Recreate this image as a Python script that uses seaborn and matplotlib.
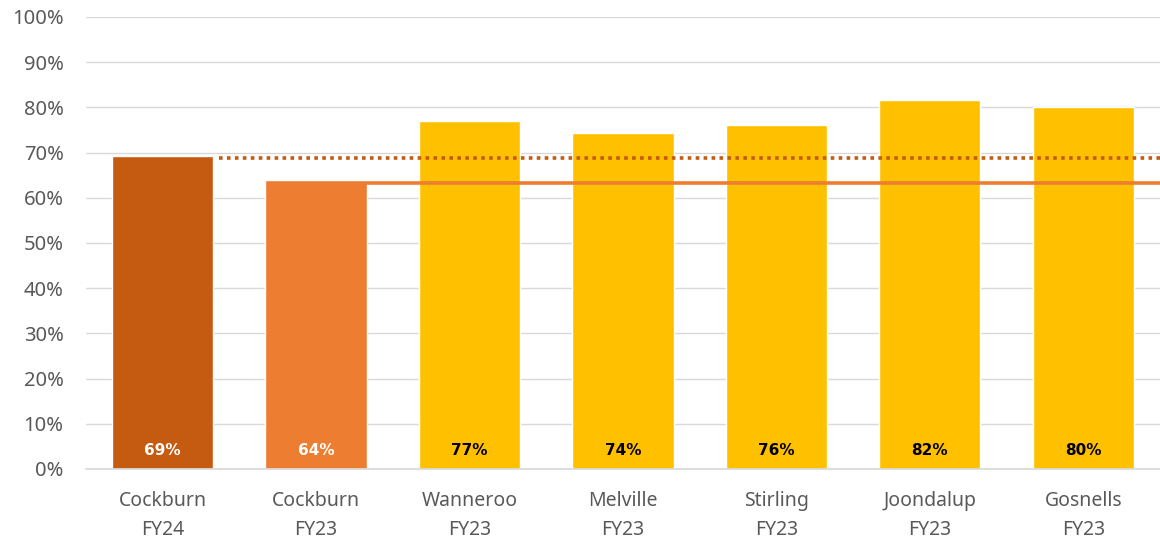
import matplotlib
matplotlib.use("Agg")

import matplotlib.pyplot as plt
import matplotlib.ticker as mticker
import seaborn as sns
import pandas as pd

# ── Data ──────────────────────────────────────────────────────────────────────
councils = ["Cockburn\nFY24", "Cockburn\nFY23", "Wanneroo\nFY23", "Melville\nFY23",
            "Stirling\nFY23", "Joondalup\nFY23", "Gosnells\nFY23"]
rates = [0.692, 0.639, 0.770, 0.743, 0.761, 0.816, 0.801]
rate_labels = ["69%", "64%", "77%", "74%", "76%", "82%", "80%"]
fy24_ref = 0.688   # dotted line
fy23_ref = 0.633   # solid line

# ── Style ─────────────────────────────────────────────────────────────────────
sns.set_theme(style="white")
plt.rcParams["font.family"] = ["Noto Sans", "DejaVu Sans"]

bar_colors = ["#C55A11", "#ED7D31"] + ["#FFC000"] * 5
text_colors = ["white", "white"] + ["black"] * 5

df = pd.DataFrame({"council": councils, "rate": rates})

fig = plt.figure(figsize=(11.6, 5.45), dpi=100)
ax = fig.add_axes([0.074, 0.1395, 0.926, 0.8295])

sns.barplot(data=df, x="council", y="rate", hue="council", palette=bar_colors,
            width=0.66, legend=False, saturation=1, ax=ax, zorder=2)

ax.plot([0.37, 6.5], [fy24_ref, fy24_ref], color="#C55A11", lw=2.6,
        ls=(0, (1, 1.2)), zorder=3)
ax.plot([1.33, 6.5], [fy23_ref, fy23_ref], color="#ED7D31", lw=2.6, zorder=3)

for i, (lab, col) in enumerate(zip(rate_labels, text_colors)):
    ax.text(i, 0.04, lab, ha="center", va="center", color=col,
            fontsize=11, fontweight="bold", family="DejaVu Sans")

ax.set_xlim(-0.5, 6.5)
ax.set_ylim(0, 1.0)
ax.yaxis.set_major_locator(mticker.MultipleLocator(0.1))
ax.yaxis.set_major_formatter(mticker.PercentFormatter(xmax=1, decimals=0))
ax.grid(axis="y", color="#D9D9D9", lw=1, zorder=0)
ax.set_axisbelow(True)
for s in ["top", "right", "left"]:
    ax.spines[s].set_visible(False)
ax.spines["bottom"].set_color("#D9D9D9")
ax.tick_params(axis="y", length=0, labelsize=14.5, colors="#595959", pad=16)
ax.tick_params(axis="x", length=0, labelsize=14, colors="#595959", pad=16)
for t in ax.get_xticklabels():
    t.set_linespacing(1.6)
ax.set_xlabel("")
ax.set_ylabel("")

fig.savefig("out.png", dpi=100)
